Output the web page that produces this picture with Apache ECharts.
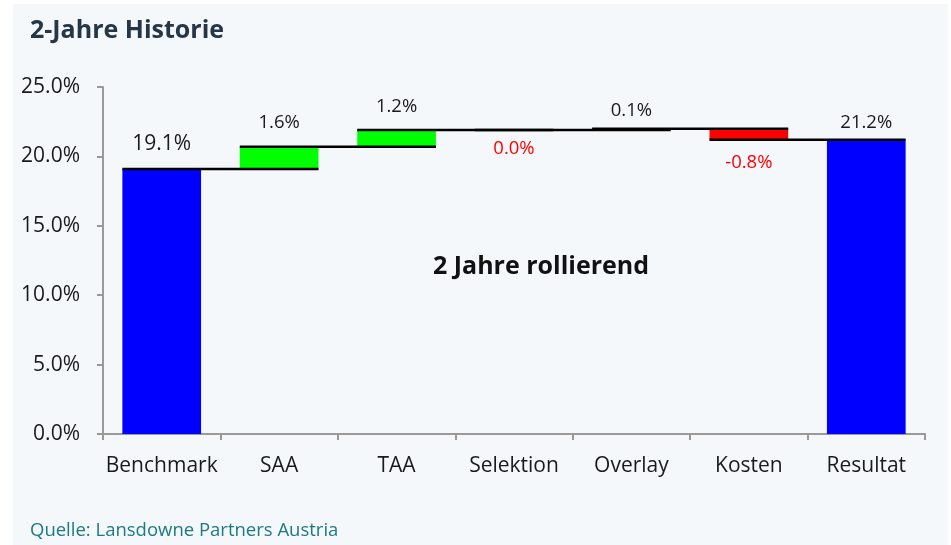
<!DOCTYPE html>
<html>
<head>
<meta charset="utf-8">
<script src="https://cdn.jsdelivr.net/npm/echarts@6/dist/echarts.min.js"></script>
<style>
html,body{margin:0;padding:0;background:#ffffff;}
#chart{width:951px;height:545px;}
</style>
</head>
<body>
<div id="chart"></div>
<script>
const categories = ['Benchmark', 'SAA', 'TAA', 'Selektion', 'Overlay', 'Kosten', 'Resultat'];
const deltas = [19.1, 1.6, 1.2, 0.0, 0.1, -0.8, 21.2];
const isTotal = [true, false, false, false, false, false, true];
const yTicks = [0, 5, 10, 15, 20, 25];

// cumulative start/end per bar
const starts = [], ends = [];
let run = 0;
deltas.forEach((d, i) => {
  if (isTotal[i]) { starts.push(0); ends.push(d); run = d; }
  else { starts.push(run); run = +(run + d).toFixed(4); ends.push(run); }
});
const baseData = deltas.map((d, i) => Math.min(starts[i], ends[i]));
const visData = deltas.map((d, i) => {
  const color = isTotal[i] ? '#0000ff' : (d >= 0 ? '#00ff00' : '#ff0000');
  const neg = !isTotal[i] && d <= 0;
  return {
    value: Math.abs(ends[i] - starts[i]),
    itemStyle: { color: color },
    label: {
      show: true,
      position: neg ? 'bottom' : 'top',
      distance: neg ? (d < 0 ? 13 : 9) : (i === 0 ? 14 : (i === 6 || i === 4 ? 8 : 14)),
      color: neg ? '#ff0000' : '#1a1a1a',
      fontSize: i === 0 ? 21 : 18.5
    }
  };
});
const connectorData = deltas.slice(0, -1).map((d, i) => [i, ends[i]]);

const BW = 0.67;
const chart = echarts.init(document.getElementById('chart'), null, { renderer: 'canvas' });
chart.setOption({
  backgroundColor: '#ffffff',
  animation: false,
  textStyle: { fontFamily: '"Open Sans", "Noto Sans", sans-serif' },
  graphic: [
    { type: 'rect', left: 13, top: 4, shape: { width: 935, height: 541 }, style: { fill: '#f4f8fb' }, z: -10 },
    { type: 'text', left: 30, top: 18, style: { text: '2-Jahre Historie', fill: '#253646', fontSize: 25, fontWeight: 'bold', fontFamily: '"Open Sans", sans-serif' } },
    { type: 'text', left: 433, top: 254, style: { text: '2 Jahre rollierend', fill: '#111111', fontSize: 25, fontWeight: 'bold', fontFamily: '"Open Sans", sans-serif' } },
    { type: 'text', left: 30, top: 521, style: { text: 'Quelle: Lansdowne Partners Austria', fill: '#1d7a82', fontSize: 18.5, fontFamily: '"Open Sans", sans-serif' } }
  ],
  grid: { left: 103, right: 26, top: 87, bottom: 111, containLabel: false },
  xAxis: {
    type: 'category',
    data: categories,
    axisLine: { lineStyle: { color: '#999999', width: 2 } },
    axisTick: { show: true, length: 6, lineStyle: { color: '#999999', width: 2 } },
    axisLabel: { color: '#1a1a1a', fontSize: 21, margin: 22, interval: 0 }
  },
  yAxis: {
    type: 'value',
    min: yTicks[0], max: yTicks[yTicks.length - 1], interval: 5,
    splitLine: { show: false },
    axisLine: { show: true, lineStyle: { color: '#999999', width: 2 } },
    axisTick: { show: true, length: 6, lineStyle: { color: '#999999', width: 2 } },
    axisLabel: { color: '#1a1a1a', fontSize: 21, margin: 23, formatter: v => v.toFixed(1) + '%' }
  },
  series: [
    { type: 'bar', stack: 'w', data: baseData, barWidth: (BW * 100) + '%', itemStyle: { color: 'transparent' }, silent: true },
    { type: 'bar', stack: 'w', data: visData, barWidth: (BW * 100) + '%',
      label: { formatter: p => deltas[p.dataIndex].toFixed(1) + '%' } },
    { type: 'custom', data: connectorData, z: 10,
      renderItem: (params, api) => {
        const i = api.value(0), lvl = api.value(1);
        const p0 = api.coord([i, lvl]);
        const p1 = api.coord([i + 1, lvl]);
        const bw = api.size([1, 0])[0] * BW;
        return { type: 'line', shape: { x1: p0[0] - bw / 2, y1: p0[1], x2: p1[0] + bw / 2, y2: p1[1] },
          style: { stroke: '#000000', lineWidth: 2.5 } };
      } }
  ]
});
</script>
</body>
</html>
